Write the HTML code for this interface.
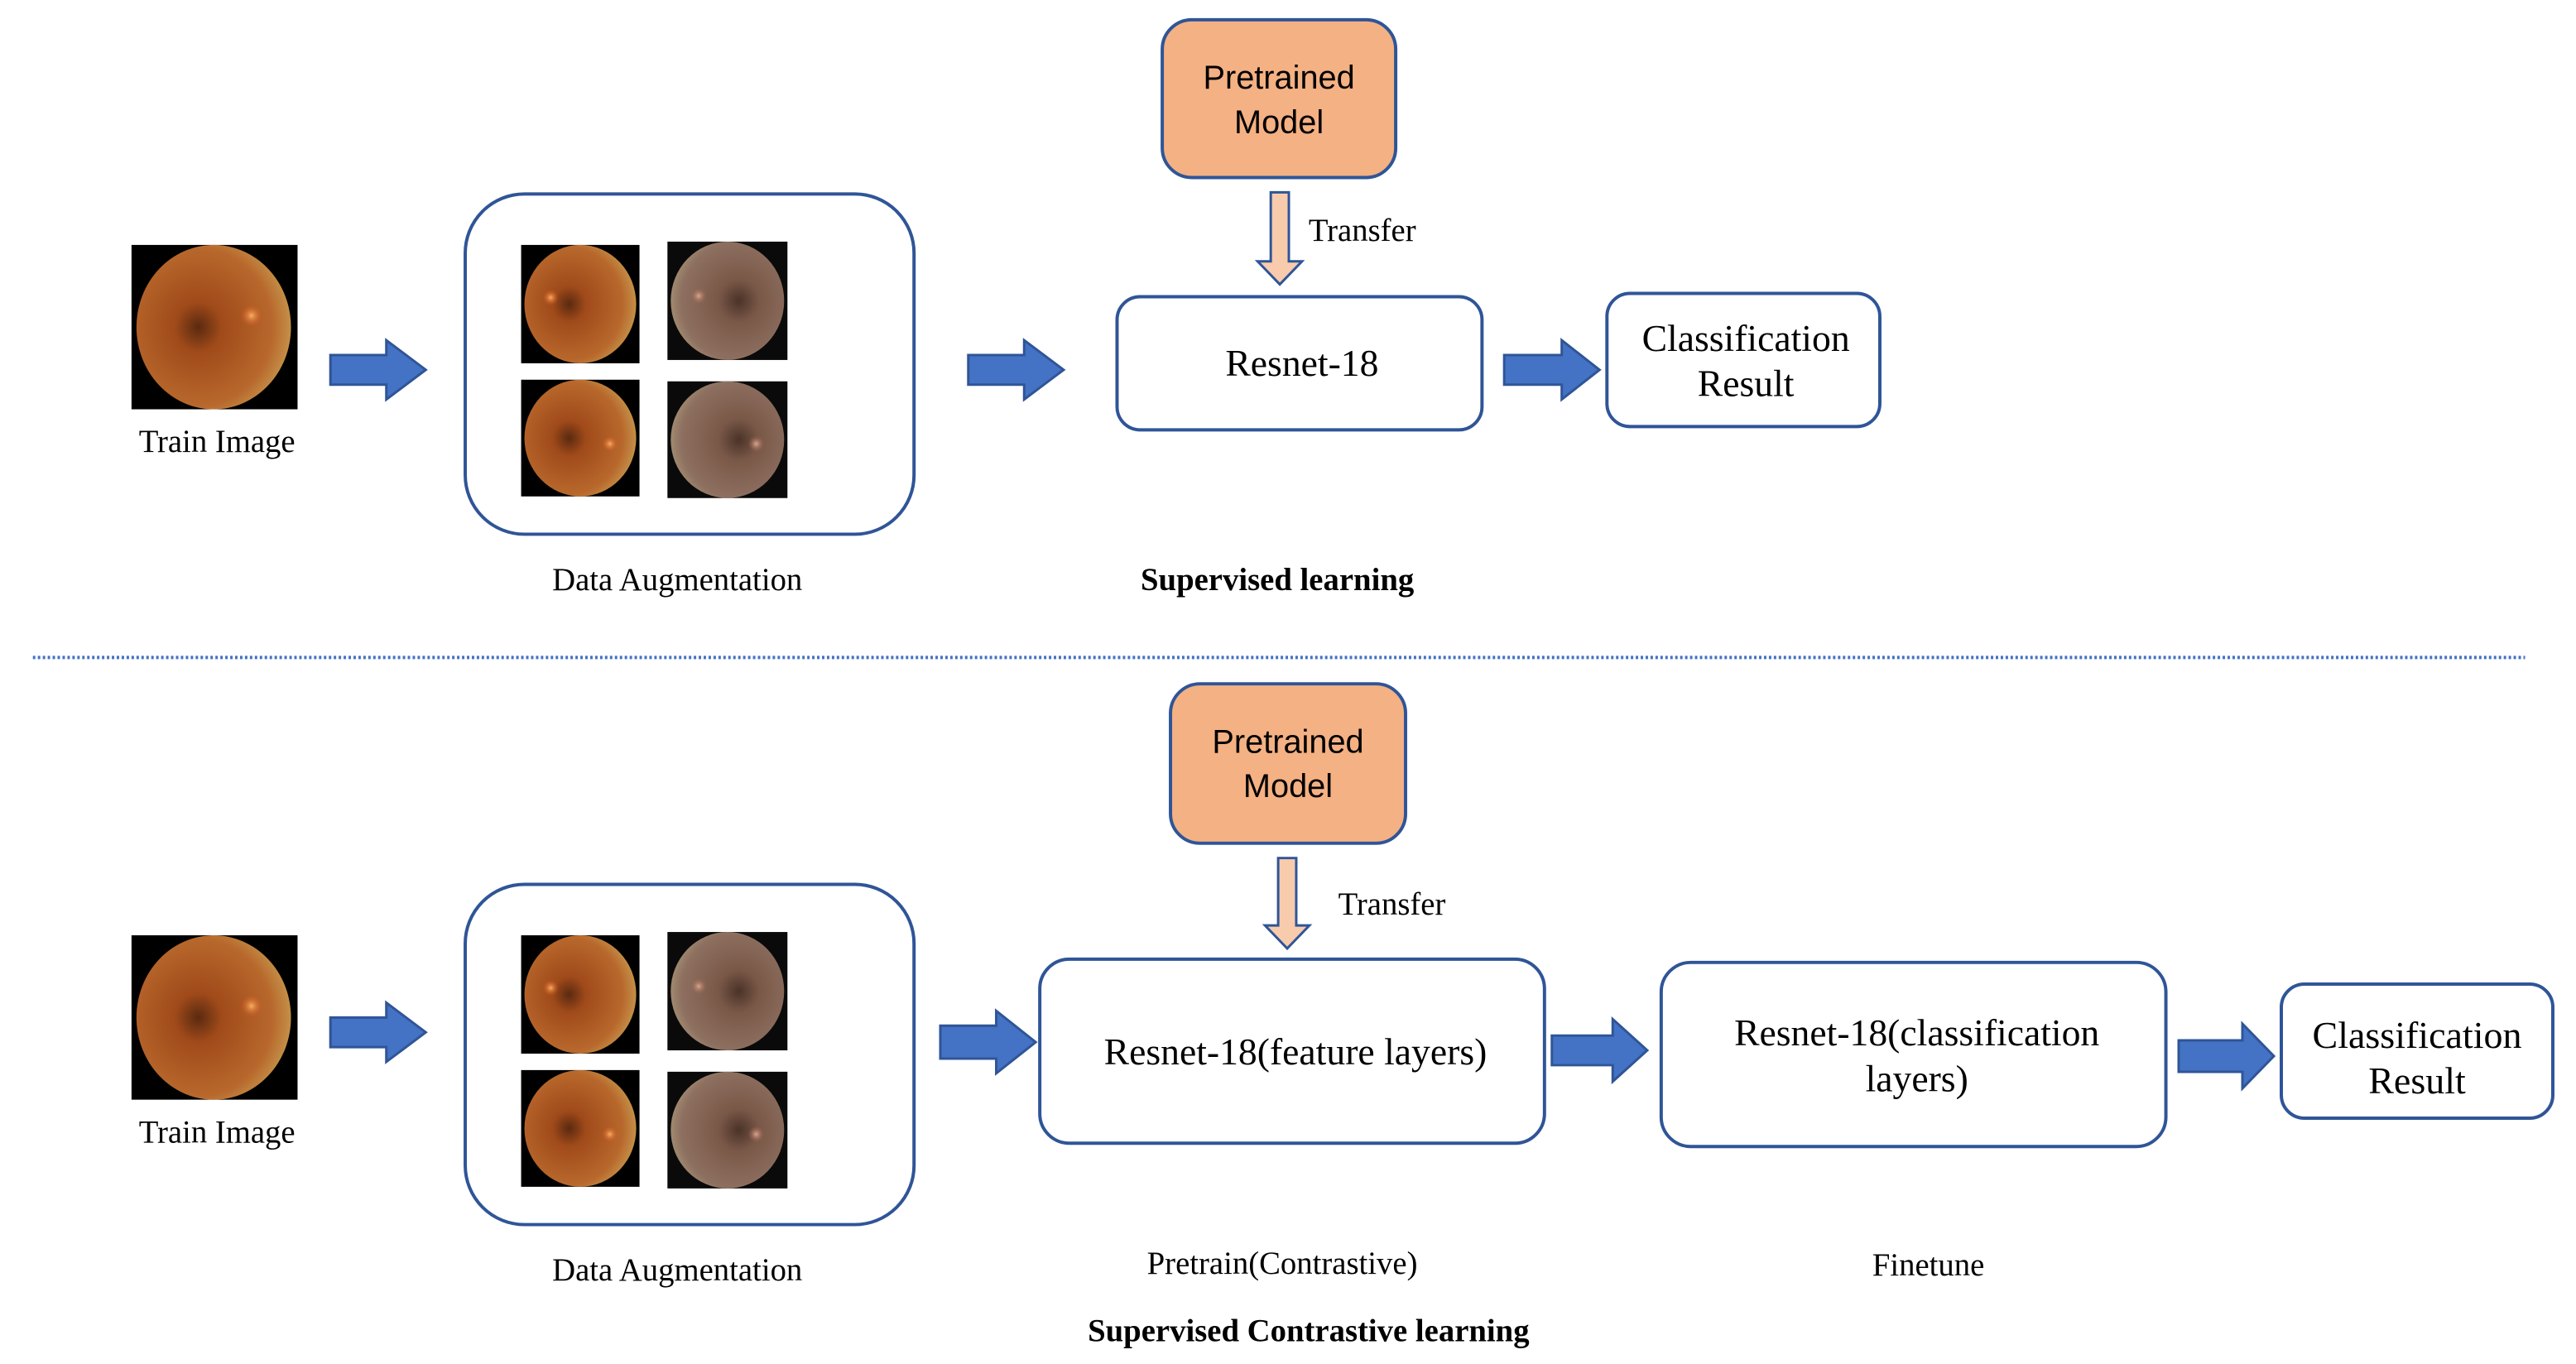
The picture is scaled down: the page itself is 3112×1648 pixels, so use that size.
<!DOCTYPE html>
<html><head><meta charset="utf-8"><style>
html,body{margin:0;padding:0;background:#fff;}
svg{display:block;}
.s{font-family:"Liberation Serif",serif;fill:#000;}
.a{font-family:"Liberation Sans",sans-serif;fill:#000;}
</style></head><body>
<svg width="3112" height="1648" viewBox="0 0 3112 1648" xmlns="http://www.w3.org/2000/svg">
<defs>
<radialGradient id="f1" cx="0.4" cy="0.5" r="0.6">
<stop offset="0" stop-color="#5a2a10"/><stop offset="0.25" stop-color="#a04a1a"/><stop offset="0.8" stop-color="#b8682c"/><stop offset="1" stop-color="#c49048"/>
</radialGradient>
<radialGradient id="f2" cx="0.6" cy="0.5" r="0.6">
<stop offset="0" stop-color="#4a3328"/><stop offset="0.3" stop-color="#7a5848"/><stop offset="0.85" stop-color="#8e7060"/><stop offset="1" stop-color="#a08a70"/>
</radialGradient>
<radialGradient id="disc"><stop offset="0" stop-color="#f8b060"/><stop offset="1" stop-color="#d05020" stop-opacity="0"/></radialGradient>
<radialGradient id="disc2"><stop offset="0" stop-color="#d8a890"/><stop offset="1" stop-color="#a06050" stop-opacity="0"/></radialGradient>
</defs>
<rect width="3112" height="1648" fill="#fff"/>
<g transform="scale(0.993)">
<rect x="160" y="298" width="202" height="200" fill="#000"/>
<ellipse cx="260" cy="398" rx="94" ry="100" fill="url(#f1)"/>
<circle cx="306" cy="384" r="14" fill="url(#disc)"/>
<text x="264" y="550" class="s" font-size="39" text-anchor="middle">Train Image</text>
<path d="M402,432 H470 V414 L518,450 L470,486 V468 H402 Z" fill="#4472c4" stroke="#2f5597" stroke-width="3"/>
<rect x="566" y="236" width="546" height="414" rx="72" fill="#fff" stroke="#2f5597" stroke-width="4"/>
<rect x="634" y="298" width="144" height="144" fill="#000"/><ellipse cx="706" cy="370" rx="68" ry="72" fill="url(#f1)"/><circle cx="670" cy="362" r="10" fill="url(#disc)"/>
<rect x="812" y="294" width="146" height="144" fill="#0a0a0a"/><ellipse cx="885" cy="366" rx="69" ry="72" fill="url(#f2)"/><circle cx="850" cy="360" r="10" fill="url(#disc2)"/>
<rect x="634" y="462" width="144" height="142" fill="#000"/><ellipse cx="706" cy="533" rx="68" ry="71" fill="url(#f1)"/><circle cx="742" cy="540" r="10" fill="url(#disc)"/>
<rect x="812" y="464" width="146" height="142" fill="#0a0a0a"/><ellipse cx="885" cy="535" rx="69" ry="71" fill="url(#f2)"/><circle cx="920" cy="540" r="10" fill="url(#disc2)"/>
<text x="824" y="718" class="s" font-size="39" text-anchor="middle">Data Augmentation</text>
<path d="M1178,432 H1246 V414 L1294,450 L1246,486 V468 H1178 Z" fill="#4472c4" stroke="#2f5597" stroke-width="3"/>
<rect x="1414" y="24" width="284" height="192" rx="36" fill="#f4b183" stroke="#2f5597" stroke-width="4"/>
<text x="1556" y="108" class="a" font-size="40" text-anchor="middle">Pretrained</text>
<text x="1556" y="162" class="a" font-size="40" text-anchor="middle">Model</text>
<path d="M1546,234 H1568 V318 H1584 L1557,346 L1530,318 H1546 Z" fill="#f8cbad" stroke="#2f5597" stroke-width="3"/>
<text x="1592" y="293" class="s" font-size="39">Transfer</text>
<rect x="1359" y="361" width="444" height="162" rx="28" fill="#fff" stroke="#2f5597" stroke-width="4"/>
<text x="1584" y="457" class="s" font-size="46" text-anchor="middle">Resnet-18</text>
<path d="M1830,432 H1900 V414 L1946,450 L1900,486 V468 H1830 Z" fill="#4472c4" stroke="#2f5597" stroke-width="3"/>
<rect x="1955" y="357" width="332" height="162" rx="28" fill="#fff" stroke="#2f5597" stroke-width="4"/>
<text x="2124" y="427" class="s" font-size="46" text-anchor="middle">Classification</text>
<text x="2124" y="482" class="s" font-size="46" text-anchor="middle">Result</text>
<text x="1554" y="718" class="s" font-size="39" font-weight="bold" text-anchor="middle">Supervised learning</text>

<line x1="40" y1="800" x2="3072" y2="800" stroke="#4472c4" stroke-width="4" stroke-dasharray="3 3"/>

<rect x="160" y="1138" width="202" height="200" fill="#000"/>
<ellipse cx="260" cy="1238" rx="94" ry="100" fill="url(#f1)"/>
<circle cx="306" cy="1224" r="14" fill="url(#disc)"/>
<text x="264" y="1390" class="s" font-size="39" text-anchor="middle">Train Image</text>
<path d="M402,1238 H470 V1220 L518,1256 L470,1292 V1274 H402 Z" fill="#4472c4" stroke="#2f5597" stroke-width="3"/>
<rect x="566" y="1076" width="546" height="414" rx="72" fill="#fff" stroke="#2f5597" stroke-width="4"/>
<rect x="634" y="1138" width="144" height="144" fill="#000"/><ellipse cx="706" cy="1210" rx="68" ry="72" fill="url(#f1)"/><circle cx="670" cy="1202" r="10" fill="url(#disc)"/>
<rect x="812" y="1134" width="146" height="144" fill="#0a0a0a"/><ellipse cx="885" cy="1206" rx="69" ry="72" fill="url(#f2)"/><circle cx="850" cy="1200" r="10" fill="url(#disc2)"/>
<rect x="634" y="1302" width="144" height="142" fill="#000"/><ellipse cx="706" cy="1373" rx="68" ry="71" fill="url(#f1)"/><circle cx="742" cy="1380" r="10" fill="url(#disc)"/>
<rect x="812" y="1304" width="146" height="142" fill="#0a0a0a"/><ellipse cx="885" cy="1375" rx="69" ry="71" fill="url(#f2)"/><circle cx="920" cy="1380" r="10" fill="url(#disc2)"/>
<text x="824" y="1558" class="s" font-size="39" text-anchor="middle">Data Augmentation</text>
<path d="M1144,1248 H1212 V1230 L1260,1268 L1212,1306 V1288 H1144 Z" fill="#4472c4" stroke="#2f5597" stroke-width="3"/>
<rect x="1424" y="832" width="286" height="194" rx="36" fill="#f4b183" stroke="#2f5597" stroke-width="4"/>
<text x="1567" y="916" class="a" font-size="40" text-anchor="middle">Pretrained</text>
<text x="1567" y="970" class="a" font-size="40" text-anchor="middle">Model</text>
<path d="M1555,1044 H1577 V1126 H1593 L1566,1154 L1539,1126 H1555 Z" fill="#f8cbad" stroke="#2f5597" stroke-width="3"/>
<text x="1628" y="1113" class="s" font-size="39">Transfer</text>
<rect x="1265" y="1167" width="614" height="224" rx="36" fill="#fff" stroke="#2f5597" stroke-width="4"/>
<text x="1576" y="1295" class="s" font-size="46" text-anchor="middle">Resnet-18(feature layers)</text>
<path d="M1888,1260 H1962 V1240 L2004,1278 L1962,1316 V1296 H1888 Z" fill="#4472c4" stroke="#2f5597" stroke-width="3"/>
<rect x="2021" y="1171" width="614" height="224" rx="36" fill="#fff" stroke="#2f5597" stroke-width="4"/>
<text x="2332" y="1272" class="s" font-size="46" text-anchor="middle">Resnet-18(classification</text>
<text x="2332" y="1328" class="s" font-size="46" text-anchor="middle">layers)</text>
<text x="1560" y="1550" class="s" font-size="39" text-anchor="middle">Pretrain(Contrastive)</text>
<text x="2346" y="1552" class="s" font-size="39" text-anchor="middle">Finetune</text>
<text x="1592" y="1632" class="s" font-size="39" font-weight="bold" text-anchor="middle">Supervised Contrastive learning</text>
</g>
<path d="M2632,1257 H2709 V1237 L2747,1276 L2709,1315 V1295 H2632 Z" fill="#4472c4" stroke="#2f5597" stroke-width="3"/>
<rect x="2756" y="1189" width="328" height="162" rx="28" fill="#fff" stroke="#2f5597" stroke-width="4"/>
<text x="2920" y="1266" class="s" font-size="46" text-anchor="middle">Classification</text>
<text x="2920" y="1321" class="s" font-size="46" text-anchor="middle">Result</text>
</svg>
</body></html>
